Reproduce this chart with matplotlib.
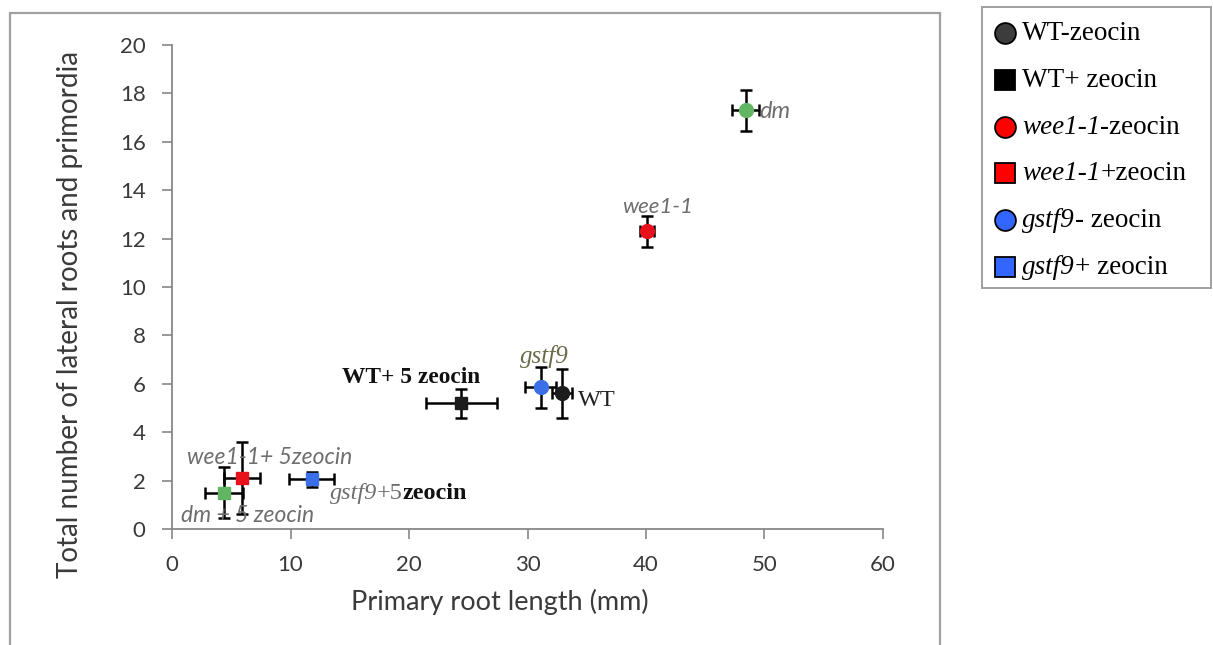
import matplotlib
matplotlib.use("Agg")
import matplotlib.pyplot as plt
from matplotlib.patches import Rectangle

# mean primary root length (mm) and lateral root + primordia counts, with SE
lines = ['WT', 'WT', 'wee1-1', 'wee1-1', 'gstf9', 'gstf9', 'dm', 'dm']
zeocin = [False, True, False, True, False, True, False, True]
root_len = [32.9, 24.4, 40.1, 5.9, 31.1, 11.8, 48.4, 4.4]
root_len_err = [0.85, 3.0, 0.6, 1.5, 1.3, 1.9, 1.15, 1.6]
lat_roots = [5.6, 5.2, 12.3, 2.1, 5.85, 2.05, 17.3, 1.5]
lat_roots_err = [1.0, 0.6, 0.65, 1.5, 0.85, 0.3, 0.85, 1.05]

x_ticks = [0, 10, 20, 30, 40, 50, 60]
y_ticks = [0, 2, 4, 6, 8, 10, 12, 14, 16, 18, 20]

colors = {'WT': '#1c1c1c', 'wee1-1': '#e8101a', 'gstf9': '#3a6fe8', 'dm': '#62b562'}
legend_face = {'WT': '#3c3c3c', 'wee1-1': '#ff0000', 'gstf9': '#3366ff'}

W, H = 1213, 645
fig = plt.figure(figsize=(W / 100, H / 100), dpi=100)

ax = fig.add_axes([172 / W, 1 - 529 / H, (883 - 172) / W, (529 - 45) / H])
for xi, yi, xe, ye, ln, z in zip(root_len, lat_roots, root_len_err, lat_roots_err, lines, zeocin):
    ax.errorbar(xi, yi, xerr=xe, yerr=ye, fmt='s' if z else 'o',
                ms=9 if z else 10, mfc=colors[ln], mec=colors[ln],
                ecolor='black', elinewidth=1.8, capsize=4, capthick=1.8, zorder=3)

ax.set_xlim(0, 60)
ax.set_ylim(0, 20)
ax.set_xticks(x_ticks)
ax.set_yticks(y_ticks)
for s in ['top', 'right']:
    ax.spines[s].set_visible(False)
for s in ['left', 'bottom']:
    ax.spines[s].set_color('#888888')
    ax.spines[s].set_linewidth(1.3)
ax.tick_params(direction='out', length=7, width=1.2, color='#888888',
               labelsize=16, labelcolor='#3a3a3a', pad=12)
for lab in ax.get_xticklabels() + ax.get_yticklabels():
    lab.set_family('Lato')

fig.text(70 / W, 1 - 314 / H, 'Total number of lateral roots and primordia',
         rotation=90, ha='center', va='center', family='Lato', fontsize=20, color='#3a3a3a')
fig.text(500 / W, 1 - 602 / H, 'Primary root length (mm)',
         ha='center', va='center', family='Lato', fontsize=19.5, color='#3a3a3a')


def chain(axis, x, y, pieces, **kw):
    """Write text pieces with different styles one after another on a baseline."""
    s, style = pieces[0]
    t = axis.text(x, y, s, va='baseline', ha='left', **style, **kw)
    for s, style in pieces[1:]:
        t = axis.annotate(s, xy=(1, 0), xycoords=t, va='bottom', ha='left', **style)
    return t


serif = 'Liberation Serif'
gray = '#6e6e6e'
it_serif = dict(family=serif, style='italic', fontsize=17.5, color=gray)
it_sans = dict(family='Lato', style='italic', fontsize=16, color=gray)

# point labels
ax.text(20.2, 6.05, 'WT+ 5 zeocin', family=serif, weight='bold', fontsize=16.8,
        ha='center', va='baseline', color='#111111')
chain(ax, 29.4, 6.85, [('gstf9', dict(it_serif, fontsize=18, color='#6b6b4a'))])
chain(ax, 34.3, 5.1, [('WT', dict(family=serif, fontsize=17.5, color='#222222'))])
chain(ax, 38.0, 13.05, [('wee1-1', it_sans)])
chain(ax, 49.6, 17.0, [('dm', dict(it_sans, fontsize=17))])
chain(ax, 1.3, 2.7, [('wee1-1+ 5zeocin', dict(it_sans, fontsize=16.5))])
chain(ax, 0.8, 0.3, [('dm + 5 zeocin', dict(it_sans, fontsize=16.5))])
chain(ax, 13.3, 1.22, [('gstf9', it_serif),
                       ('+5', dict(family=serif, fontsize=17.5, color=gray)),
                       ('zeocin', dict(family=serif, weight='bold', fontsize=17.5, color='#111111'))])

# outer chart frame and legend box
fig.add_artist(Rectangle((10 / W, -0.05), (940 - 10) / W, 1.05 - 13 / H,
                         transform=fig.transFigure, fill=False, ec='#a0a0a0', lw=1.6))
fig.add_artist(Rectangle((982 / W, 1 - 288 / H), (1211 - 982) / W, (288 - 7) / H,
                         transform=fig.transFigure, fill=False, ec='#a0a0a0', lw=1.4))

# legend drawn in pixel coordinates
lax = fig.add_axes([0, 0, 1, 1])
lax.set_xlim(0, W)
lax.set_ylim(H, 0)
lax.axis('off')
leg_font = dict(family=serif, fontsize=19.5, color='black')
row = 0
for ln, z in zip(lines, zeocin):
    if ln == 'dm':
        continue
    yrow = 33 + row * 46.8
    face = 'black' if (ln == 'WT' and z) else legend_face[ln]
    lax.plot(1005, yrow, 's' if z else 'o', ms=14 if z else 15, mfc=face,
             mec='black', mew=1.3)
    if ln == 'WT':
        pieces = [('WT+ zeocin' if z else 'WT-zeocin', leg_font)]
    elif ln == 'wee1-1':
        pieces = [('wee1-1', dict(leg_font, style='italic')),
                  ('+zeocin' if z else '-zeocin', leg_font)]
    else:
        pieces = [('gstf9', dict(leg_font, style='italic')),
                  ('+ zeocin' if z else '- zeocin', leg_font)]
    chain(lax, 1022, yrow + 7, pieces)
    row += 1

fig.savefig('out.png', dpi=100)
